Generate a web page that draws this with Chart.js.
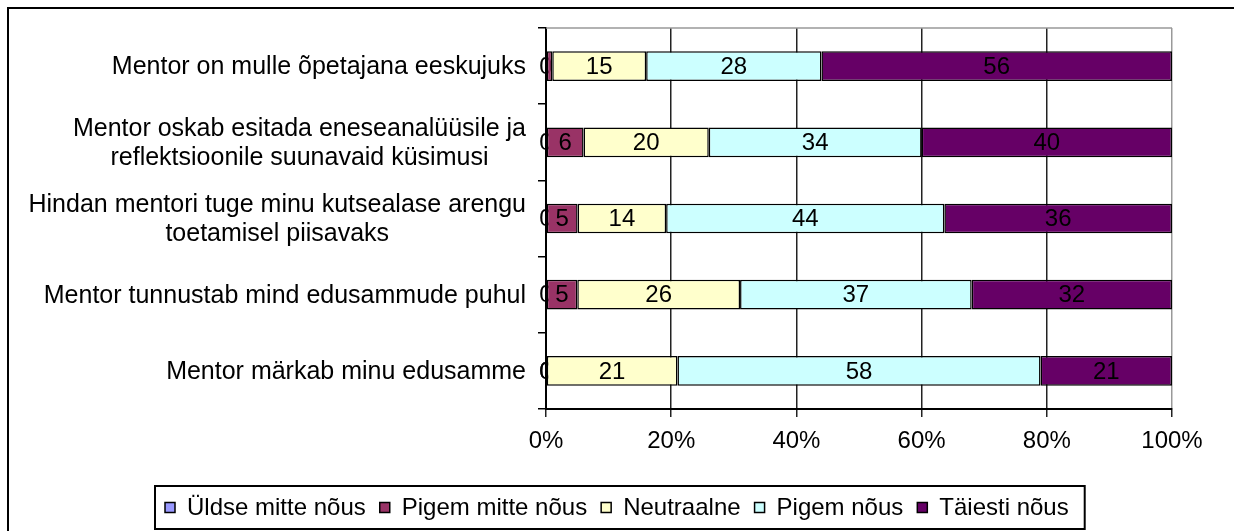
<!DOCTYPE html>
<html>
<head>
<meta charset="utf-8">
<script src="https://cdn.jsdelivr.net/npm/chart.js@4.4.1/dist/chart.umd.min.js"></script>
<style>
html, body { margin: 0; padding: 0; background: #fff; }
#wrap { width: 1234px; height: 531px; position: relative; }
</style>
</head>
<body>
<div id="wrap"><canvas id="graafik"></canvas></div>
<script>
// vastuste jaotus küsimuste kaupa (%)
const kategooriad = [
    ['Mentor on mulle õpetajana eeskujuks'],
    ['Mentor oskab esitada eneseanalüüsile ja', 'reflektsioonile suunavaid küsimusi'],
    ['Hindan mentori tuge minu kutsealase arengu', 'toetamisel piisavaks'],
    ['Mentor tunnustab mind edusammude puhul'],
    ['Mentor märkab minu edusamme']
];
const yldseMitteNous = [0, 0, 0, 0, 0];
const pigemMitteNous = [1, 6, 5, 5, 0];
const neutraalne = [15, 20, 14, 26, 21];
const pigemNous = [28, 34, 44, 37, 58];
const taiestiNous = [56, 40, 36, 32, 21];

const seeriaNimed = ['Üldse mitte nõus', 'Pigem mitte nõus', 'Neutraalne', 'Pigem nõus', 'Täiesti nõus'];
const seeriad = [yldseMitteNous, pigemMitteNous, neutraalne, pigemNous, taiestiNous];
const varvid = ['#9999FF', '#993366', '#FFFFCC', '#CCFFFF', '#660066'];
const xSildid = ['0%', '20%', '40%', '60%', '80%', '100%'];

const FONT = '"Liberation Sans", Arial, sans-serif';
const FONT_SIZE = 24;
const KAT_FONT_SIZE = 25;

// 100% tulp: iga rida jagatakse oma summaga
const summad = kategooriad.map((_, i) => seeriad.reduce((s, a) => s + a[i], 0));

const datasets = seeriad.map((arr, d) => ({
    label: seeriaNimed[d],
    data: arr.map((v, i) => v / summad[i] * 100),
    vaartused: arr,
    backgroundColor: varvid[d],
    borderColor: '#000',
    borderWidth: 1.5,
    borderSkipped: false,
    barPercentage: 0.39,
    categoryPercentage: 1
}));

function joonistaSildid(chart, nullid) {
    const ctx = chart.ctx;
    ctx.save();
    ctx.font = FONT_SIZE + 'px ' + FONT;
    ctx.fillStyle = '#000';
    ctx.textAlign = 'center';
    ctx.textBaseline = 'middle';
    chart.data.datasets.forEach((ds, d) => {
        const meta = chart.getDatasetMeta(d);
        meta.data.forEach((bar, i) => {
            const v = ds.vaartused[i];
            if ((v === 0) !== nullid) return;
            const tekst = String(v);
            const laius = Math.abs(bar.x - bar.base);
            if (v !== 0 && laius < ctx.measureText(tekst).width) return;
            ctx.fillText(tekst, (bar.x + bar.base) / 2, bar.y + 1);
        });
    });
    ctx.restore();
}

const vaartuseSildid = {
    id: 'vaartuseSildid',
    beforeDatasetsDraw(chart) { joonistaSildid(chart, true); },
    afterDatasetsDraw(chart) { joonistaSildid(chart, false); }
};

const raam = {
    id: 'raam',
    afterDraw(chart) {
        const ctx = chart.ctx;
        const a = chart.chartArea;
        ctx.save();

        // välimine raam
        ctx.strokeStyle = '#000';
        ctx.lineWidth = 2;
        ctx.strokeRect(8, 8, chart.width + 50, chart.height + 50);

        // joonise ülemine serv
        ctx.strokeStyle = '#999';
        ctx.lineWidth = 1.5;
        ctx.beginPath();
        ctx.moveTo(a.left, a.top);
        ctx.lineTo(a.right, a.top);
        ctx.stroke();

        // kategooriate nimed
        ctx.font = KAT_FONT_SIZE + 'px ' + FONT;
        ctx.fillStyle = '#000';
        ctx.textAlign = 'center';
        ctx.textBaseline = 'middle';
        const yScale = chart.scales.y;
        const reaKorgus = 29;
        kategooriad.forEach((read, i) => {
            const cy = yScale.getPixelForValue(i);
            const laius = Math.max(...read.map(r => ctx.measureText(r).width));
            const cx = a.left - 20 - laius / 2;
            read.forEach((r, k) => {
                ctx.fillText(r, cx, cy + (k - (read.length - 1) / 2) * reaKorgus + 1);
            });
        });

        // legend raamiga
        ctx.font = FONT_SIZE + 'px ' + FONT;
        const kast = 10, vahe = 12, samm = 14;
        const laiused = seeriaNimed.map(n => ctx.measureText(n).width);
        const sisu = laiused.reduce((s, w) => s + kast + vahe + w, 0) + samm * (laiused.length - 1);
        const bw = sisu + 26;
        const bx = Math.round((chart.width - bw) / 2) + 3;
        const by = 486, bh = 43;
        ctx.strokeStyle = '#000';
        ctx.lineWidth = 2;
        ctx.strokeRect(bx, by, bw, bh);
        const ly = by + bh / 2;
        let x = bx + 10;
        ctx.textAlign = 'left';
        seeriaNimed.forEach((n, d) => {
            ctx.fillStyle = varvid[d];
            ctx.fillRect(x, ly - kast / 2, kast, kast);
            ctx.strokeStyle = '#000';
            ctx.lineWidth = 1.5;
            ctx.strokeRect(x, ly - kast / 2, kast, kast);
            ctx.fillStyle = '#000';
            ctx.fillText(n, x + kast + vahe, ly + 1);
            x += kast + vahe + laiused[d] + samm;
        });
        ctx.restore();
    }
};

new Chart(document.getElementById('graafik'), {
    type: 'bar',
    data: { labels: kategooriad.map(r => r.join(' ')), datasets },
    options: {
        indexAxis: 'y',
        responsive: true,
        maintainAspectRatio: false,
        animation: false,
        layout: { padding: { left: 0, right: 62, top: 28, bottom: 62 } },
        plugins: {
            legend: { display: false },
            tooltip: { enabled: false }
        },
        scales: {
            x: {
                stacked: true,
                min: 0,
                max: 100,
                ticks: {
                    stepSize: 20,
                    color: '#000',
                    font: { family: FONT, size: FONT_SIZE },
                    padding: 10,
                    maxRotation: 0,
                    callback: (v, i) => xSildid[i]
                },
                grid: {
                    color: c => (c.tick && c.tick.value === 100) ? '#999' : '#222',
                    tickColor: '#222',
                    lineWidth: 1.5,
                    tickLength: 8
                },
                border: { color: '#000', width: 2 },
                afterFit: s => { s.height = 60; }
            },
            y: {
                stacked: true,
                ticks: { display: false },
                grid: {
                    offset: true,
                    drawOnChartArea: false,
                    drawTicks: true,
                    tickLength: 8,
                    color: '#000',
                    lineWidth: 1.5
                },
                border: { color: '#000', width: 2 },
                afterFit: s => { s.width = 546; }
            }
        }
    },
    plugins: [vaartuseSildid, raam]
});
</script>
</body>
</html>
